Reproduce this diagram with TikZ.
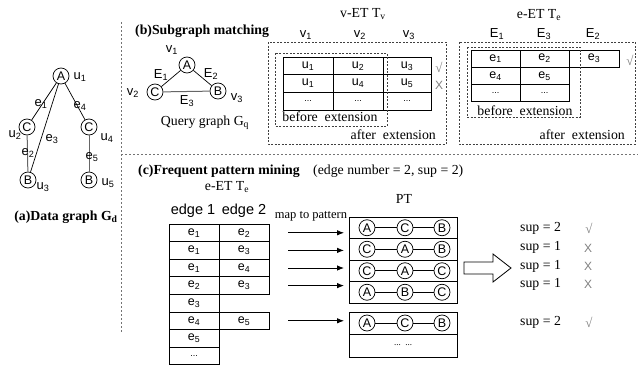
\documentclass[tikz,border=0pt]{standalone}
\usepackage{fontspec}
\setmainfont{Liberation Serif}
\newfontfamily\hv{Liberation Sans}
\usetikzlibrary{arrows.meta}
\newcommand\sbs[2]{#1\textsubscript{#2}}
\tikzset{
  vtx/.style={circle,draw,line width=0.7pt,inner sep=0pt,minimum size=16pt,font=\hv\fontsize{12.5}{12.5}\selectfont},
  edg/.style={line width=0.7pt},
  edgg/.style={line width=1pt,draw=black!60},
  lbl/.style={inner sep=0pt,font=\hv\fontsize{13}{13}\selectfont},
  cell/.style={draw,line width=0.8pt,inner sep=0pt,minimum width=#1,font=\hv\fontsize{12.5}{13}\selectfont},
  rv/.style={minimum height=17.7pt},
  re/.style={minimum height=17.3pt},
  rc/.style={minimum height=17.6pt},
  ptrow/.style={draw,line width=0.8pt,inner sep=0pt,minimum width=108pt,minimum height=#1},
  dbox/.style={draw=black!75,line width=0.7pt,dash pattern=on 2pt off 1.5pt},
  sep/.style={draw=black!55,line width=0.8pt,dash pattern=on 2.2pt off 1.8pt},
  serif/.style={inner sep=0pt,font=\fontsize{13.8}{15}\selectfont},
  ttl/.style={inner sep=0pt,font=\bfseries\fontsize{13.8}{15}\selectfont},
  chk/.style={inner sep=0pt,text=black!50,font=\fontsize{13}{13}\selectfont},
  chkx/.style={inner sep=0pt,text=black!50,font=\hv\fontsize{12}{12}\selectfont},
  arr/.style={line width=0.8pt,-{Latex[length=7pt,width=5.5pt]}},
}
\begin{document}
\begin{tikzpicture}[x=1pt,y=-1pt]
\useasboundingbox (0,0) rectangle (638,367);
% separators
\draw[sep] (121,22) -- (121,332);
\draw[sep] (121,154) -- (638,154);

% (a) data graph
\node[vtx] (A) at (61,76) {A};
\node[vtx] (C1) at (27,127) {C};
\node[vtx] (B1) at (28,180) {B};
\node[vtx] (C2) at (89,127) {C};
\node[vtx] (B2) at (89,180) {B};
\draw[edg] (A) -- (C1);
\draw[edg] (A) -- (B1);
\draw[edg] (A) -- (C2);
\draw[edgg] (C1) -- (B1);
\draw[edgg] (C2) -- (B2);
\node[lbl] (lu1) at (80,77) {\sbs{u}{1}};
\node[lbl] (lu2) at (15,135) {\sbs{u}{2}};
\node[lbl] (lu3) at (43,187) {\sbs{u}{3}};
\node[lbl] (lu4) at (107,138) {\sbs{u}{4}};
\node[lbl] (lu5) at (108,183) {\sbs{u}{5}};
\node[lbl] (le1) at (41,104) {\sbs{e}{1}};
\node[lbl] (le3) at (52,139) {\sbs{e}{3}};
\node[lbl] (le4) at (80,106) {\sbs{e}{4}};
\node[lbl] (le2) at (28,153) {\sbs{e}{2}};
\node[lbl] (le5) at (92,157) {\sbs{e}{5}};
\node[ttl] (ta) at (66,217) {(a)Data graph G\textsubscript{d}};

% (b) query graph
\node[ttl,anchor=west] (tb) at (135,31) {(b)Subgraph matching};
\node[vtx] (qA) at (187,65) {A};
\node[vtx] (qC) at (155,92) {C};
\node[vtx] (qB) at (218,91) {B};
\draw[edg] (qA) -- (qC);
\draw[edg] (qA) -- (qB);
\draw[edgg] (qC) -- (qB);
\node[lbl] (lv1) at (172,50) {\sbs{v}{1}};
\node[lbl] (lv2) at (133,93) {\sbs{v}{2}};
\node[lbl] (lv3) at (237,98) {\sbs{v}{3}};
\node[lbl] (lE1) at (161,75) {\sbs{E}{1}};
\node[lbl] (lE2) at (211,74) {\sbs{E}{2}};
\node[lbl] (lE3) at (187,101) {\sbs{E}{3}};
\node[serif] (qg) at (205,123) {Query graph G\textsubscript{q}};

% v-ET table
\node[serif] (vt) at (363,14) {v-ET T\textsubscript{v}};
\node[lbl] (hv1) at (306,35) {\sbs{v}{1}};
\node[lbl] (hv2) at (360,35) {\sbs{v}{2}};
\node[lbl] (hv3) at (409,35) {\sbs{v}{3}};
\draw[dbox] (268,42) rectangle (446,144);
\node[cell=50pt,rv] (v11) at (308,65.85) {\sbs{u}{1}};
\node[cell=50pt,rv] (v12) at (358,65.85) {\sbs{u}{2}};
\node[cell=48pt,rv] (v13) at (407,65.85) {\sbs{u}{3}};
\node[cell=50pt,rv] (v21) at (308,83.55) {\sbs{u}{1}};
\node[cell=50pt,rv] (v22) at (358,83.55) {\sbs{u}{4}};
\node[cell=48pt,rv] (v23) at (407,83.55) {\sbs{u}{5}};
\node[cell=50pt,rv] (v31) at (308,101.25) {\fontsize{9}{9}\selectfont ...};
\node[cell=50pt,rv] (v32) at (358,101.25) {\fontsize{9}{9}\selectfont ...};
\node[cell=48pt,rv] (v33) at (407,101.25) {\fontsize{9}{9}\selectfont ...};
\draw[dbox] (275,53) rectangle (387,126);
\node[serif] (vbe) at (330,117) {before\ \ extension};
\node[serif,anchor=east] (vae) at (436,135) {after\ \ extension};
\node[chk] (vm1) at (439,67) {√};
\node[chkx] (vm2) at (439,85) {X};

% e-ET table
\node[serif] (et) at (539,15) {e-ET T\textsubscript{e}};
\node[lbl] (hE1) at (497,34) {\sbs{E}{1}};
\node[lbl] (hE3) at (544,34) {\sbs{E}{3}};
\node[lbl] (hE2) at (593,34) {\sbs{E}{2}};
\draw[dbox] (459,42) rectangle (635,144);
\node[cell=49pt,re] (e11) at (495.5,58.6) {\sbs{e}{1}};
\node[cell=49pt,re] (e12) at (544.5,58.6) {\sbs{e}{2}};
\node[cell=50pt,re] (e13) at (594,58.6) {\sbs{e}{3}};
\node[cell=49pt,re] (e21) at (495.5,75.9) {\sbs{e}{4}};
\node[cell=49pt,re] (e22) at (544.5,75.9) {\sbs{e}{5}};
\node[cell=49pt,re] (e31) at (495.5,93.2) {\fontsize{9}{9}\selectfont ...};
\node[cell=49pt,re] (e32) at (544.5,93.2) {\fontsize{9}{9}\selectfont ...};
\draw[dbox] (467,47) rectangle (580,117);
\node[serif] (ebe) at (525,111) {before\ \ extension};
\node[serif,anchor=east] (eae) at (625,135) {after\ \ extension};
\node[chk] (em1) at (630,60) {√};

% (c) frequent pattern mining
\node[ttl,anchor=west] (tc) at (138,171) {(c)Frequent pattern mining};
\node[serif,anchor=west] (tcp) at (313,171) {(edge number = 2, sup = 2)};
\node[serif] (ct) at (227,187) {e-ET T\textsubscript{e}};
\node[lbl,font=\hv\fontsize{14.5}{14.5}\selectfont] (ed1) at (193,211) {edge 1};
\node[lbl,font=\hv\fontsize{14.5}{14.5}\selectfont] (ed2) at (244,211) {edge 2};
\node[serif,font=\fontsize{12.5}{13}\selectfont] (mp) at (311,216) {map to pattern};
\node[cell=50pt,rc] (c11) at (194,232.8) {\sbs{e}{1}};
\node[cell=50pt,rc] (c12) at (244,232.8) {\sbs{e}{2}};
\node[cell=50pt,rc] (c21) at (194,250.4) {\sbs{e}{1}};
\node[cell=50pt,rc] (c22) at (244,250.4) {\sbs{e}{3}};
\node[cell=50pt,rc] (c31) at (194,268) {\sbs{e}{1}};
\node[cell=50pt,rc] (c32) at (244,268) {\sbs{e}{4}};
\node[cell=50pt,rc] (c41) at (194,285.6) {\sbs{e}{2}};
\node[cell=50pt,rc] (c42) at (244,285.6) {\sbs{e}{3}};
\node[cell=50pt,rc] (c51) at (194,303.2) {\sbs{e}{3}};
\node[cell=50pt,rc] (c61) at (194,320.8) {\sbs{e}{4}};
\node[cell=50pt,rc] (c62) at (244,320.8) {\sbs{e}{5}};
\node[cell=50pt,rc] (c71) at (194,338.4) {\sbs{e}{5}};
\node[cell=50pt,rc] (c81) at (194,356) {\fontsize{9}{9}\selectfont ...};

% arrows to PT
\coordinate (a1) at (288,232.8); \coordinate (b1) at (344,232.8);
\coordinate (a2) at (288,250.4); \coordinate (b2) at (344,250.4);
\coordinate (a3) at (288,268);   \coordinate (b3) at (344,268);
\coordinate (a4) at (288,285.6); \coordinate (b4) at (344,285.6);
\coordinate (a5) at (288,320.8); \coordinate (b5) at (344,320.8);
\foreach \i in {1,...,5} {\draw[arr] (a\i) -- (b\i);}

% PT
\node[serif] (pt) at (404,199) {PT};
\node[ptrow=21.5pt] (p1) at (403,227.75) {};
\node[ptrow=21.5pt] (p2) at (403,249.25) {};
\node[ptrow=21.5pt] (p3) at (403,270.75) {};
\node[ptrow=21.5pt] (p4) at (403,292.25) {};
\node[ptrow=22pt] (p5) at (403,323) {};
\node[ptrow=23pt] (p6) at (403,345.5) {\fontsize{9}{9}\selectfont ...\ \ ...};
\foreach \r/\y/\a/\b/\c in {1/227.75/A/C/B,2/249.25/C/A/B,3/270.75/C/A/C,4/292.25/A/B/C,5/323/A/C/B} {
  \node[vtx] (x\r a) at (367,\y) {\a};
  \node[vtx] (x\r b) at (405,\y) {\b};
  \node[vtx] (x\r c) at (442,\y) {\c};
  \draw[edg] (x\r a) -- (x\r b);
  \draw[edg] (x\r b) -- (x\r c);
}

% big hollow arrow
\draw[line width=0.8pt] (464,262) -- (493,262) -- (493,254) -- (511,268) -- (493,282) -- (493,274) -- (464,274) -- cycle;

% support labels
\node[serif,anchor=west] (s1) at (520,228) {sup = 2};
\node[serif,anchor=west] (s2) at (520,247) {sup = 1};
\node[serif,anchor=west] (s3) at (520,266) {sup = 1};
\node[serif,anchor=west] (s4) at (520,284) {sup = 1};
\node[serif,anchor=west] (s5) at (520,322) {sup = 2};
\node[chk] (m1) at (589,228) {√};
\node[chkx] (m2) at (588,248) {X};
\node[chkx] (m3) at (588,266) {X};
\node[chkx] (m4) at (588,284) {X};
\node[chk] (m5) at (589,322) {√};
\end{tikzpicture}
\end{document}
